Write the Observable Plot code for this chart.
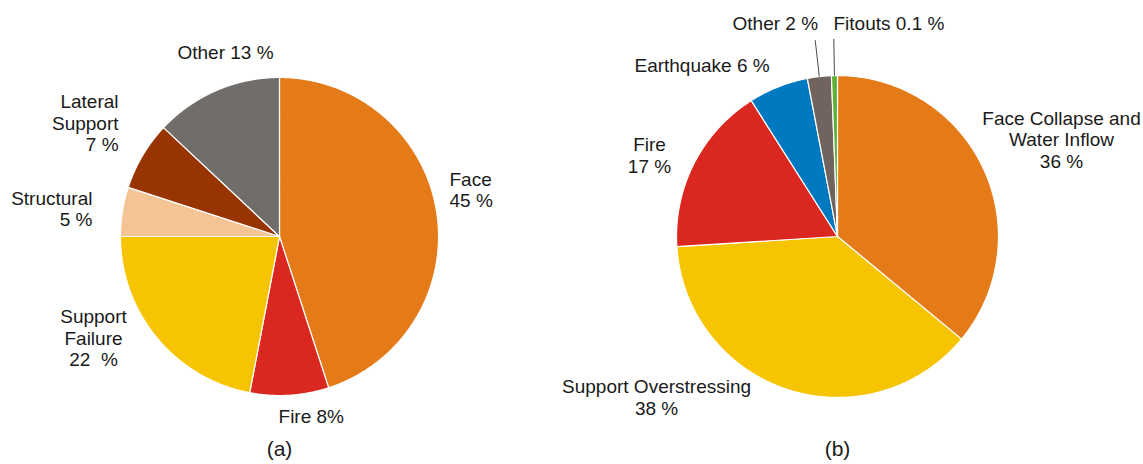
<!DOCTYPE html>
<html><head><meta charset="utf-8">
<script src="https://cdn.jsdelivr.net/npm/d3@7"></script>
<script src="https://cdn.jsdelivr.net/npm/@observablehq/plot@0.6"></script>
<style>
body{margin:0;background:#fff;}
#chart svg{display:block;}
</style></head><body><div id="chart"></div>
<script>
// ---- data ----
const panels = ["(a)", "(b)"];

const catsA = ["Face", "Fire", "Support Failure", "Structural", "Lateral Support", "Other"];
const valsA = [45, 8, 22, 5, 7, 13];
const labelsA = ["Face\n45 %", "Fire 8%", "Support\nFailure\n22  %", "Structural\n5 %", "Lateral\nSupport\n7 %", "Other 13 %"];

const catsB = ["Face Collapse and Water Inflow", "Support Overstressing", "Fire", "Earthquake", "Other", "Fitouts"];
const valsB = [36, 38, 17, 6, 2.4, 0.6];
const labelsB = ["Face Collapse and\nWater Inflow\n36 %", "Support Overstressing\n38 %", "Fire\n17 %", "Earthquake 6 %", "Other 2 %", "Fitouts 0.1 %"];
const leaderCatsB = ["Other", "Fitouts"];

// ---- styles / layout ----
const colorsA = ["#E57A19", "#DA2820", "#F6C400", "#F5C494", "#973400", "#716D6A"];
const colorsB = ["#E57A19", "#F6C400", "#DA2820", "#0079C1", "#71645F", "#5DB135"];
const radius = {"(a)": 0.994, "(b)": 1.006};
// label anchor positions in pie-radius units relative to pie centre: [dx, dy, anchor]
const labelPosA = [[1.0625, 0.294, "start"], [-0.006, -1.122, "start"], [-1.1625, -0.634, "middle"],
                   [-1.169, 0.175, "end"], [-1.006, 0.709, "end"], [-0.3375, 1.15, "middle"]];
const labelPosB = [[1.4, 0.606, "middle"], [-1.131, -1.003, "middle"], [-1.175, 0.509, "middle"],
                   [-1.269, 1.072, "start"], [-0.656, 1.334, "start"], [-0.025, 1.334, "start"]];
const leaderOuter = 1.235;

function slicePoints(panel, cats, vals, colors) {
  const total = d3.sum(vals), R = radius[panel], pts = [], mids = {};
  let acc = 0;
  cats.forEach((c, i) => {
    const a0 = acc / total * 2 * Math.PI; acc += vals[i];
    const a1 = acc / total * 2 * Math.PI;
    mids[c] = (a0 + a1) / 2;
    const key = panel + c, color = colors[i];
    const n = Math.max(2, Math.ceil((a1 - a0) / (Math.PI / 360)));
    pts.push({panel, key, color, x: 0, y: 0});
    for (let k = 0; k <= n; k++) {
      const a = a0 + (a1 - a0) * k / n;
      pts.push({panel, key, color, x: R * Math.sin(a), y: R * Math.cos(a)});
    }
  });
  return {pts, mids};
}
const A = slicePoints("(a)", catsA, valsA, colorsA);
const B = slicePoints("(b)", catsB, valsB, colorsB);
const pts = A.pts.concat(B.pts);

const labels = labelsA.map((t, i) => ({panel: "(a)", text: t, x: labelPosA[i][0], y: labelPosA[i][1], anchor: labelPosA[i][2]}))
  .concat(labelsB.map((t, i) => ({panel: "(b)", text: t, x: labelPosB[i][0], y: labelPosB[i][1], anchor: labelPosB[i][2]})));

const leaders = leaderCatsB.map(c => {
  const a = B.mids[c], R = radius["(b)"];
  return {panel: "(b)", x1: R * Math.sin(a), y1: R * Math.cos(a), x2: leaderOuter * Math.sin(a), y2: leaderOuter * Math.cos(a)};
});

const font = "'Liberation Sans', Arial, Helvetica, sans-serif";
const textMark = anchor => Plot.text(labels.filter(d => d.anchor === anchor), {
  fx: "panel", x: "x", y: "y", text: "text", textAnchor: anchor,
  fontSize: 19, lineHeight: 1.13, fill: "#1a1a1a"
});

const chart = Plot.plot({
  width: 1143, height: 464,
  marginLeft: 0, marginRight: 27, marginTop: 0, marginBottom: 30,
  style: {fontFamily: font, background: "#fff"},
  fx: {domain: panels, padding: 0, label: null, axis: null},
  x: {domain: [-1.74375, 1.74375], axis: null},
  y: {domain: [-1.2375, 1.475], axis: null},
  color: {type: "identity"},
  marks: [
    Plot.line(pts, {fx: "panel", x: "x", y: "y", z: "key", fill: "color", stroke: "white", strokeWidth: 1.2, curve: "linear-closed"}),
    Plot.link(leaders, {fx: "panel", x1: "x1", y1: "y1", x2: "x2", y2: "y2", stroke: "#4a4a4a", strokeWidth: 1}),
    textMark("start"), textMark("middle"), textMark("end"),
    Plot.text(panels, {fx: d => d, text: d => d, frameAnchor: "bottom", dy: 21, fontSize: 21, fill: "#1a1a1a"})
  ]
});
document.getElementById("chart").appendChild(chart);
</script></body></html>
